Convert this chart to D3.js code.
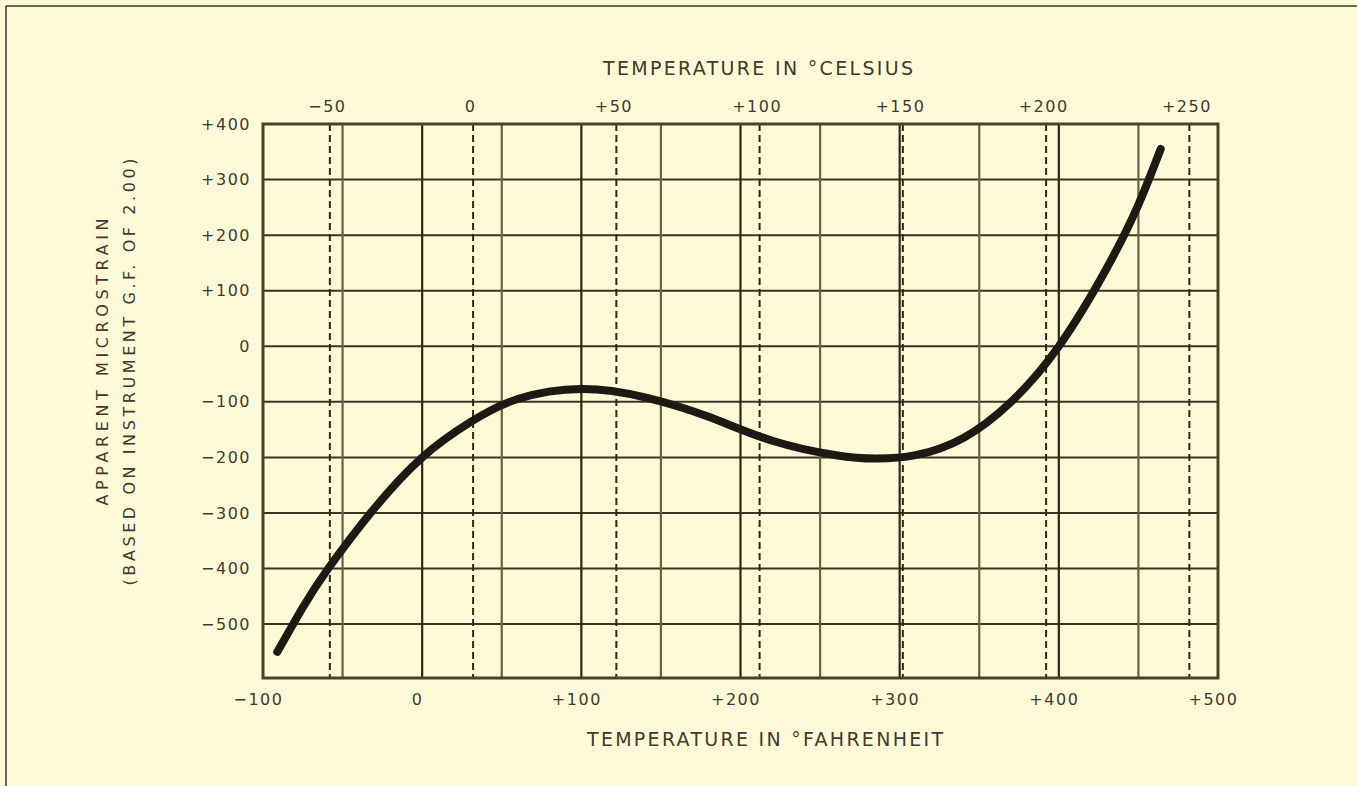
<!DOCTYPE html>
<html>
<head>
<meta charset="utf-8">
<script src="https://cdn.jsdelivr.net/npm/d3@7"></script>
<style>
  html, body { margin: 0; padding: 0; background: #fefad7; }
  svg { display: block; }
  text { font-family: "DejaVu Sans", sans-serif; fill: #3e3b2e; }
</style>
</head>
<body>
<svg id="chart" width="1357" height="786"></svg>
<script>
// ---- data ----
const fahrenheit = [-91, -75, -59, -31, 0, 30, 60, 100, 140, 180, 220, 260, 285, 310, 340, 370, 400, 430, 450, 464];
const strain     = [-550, -470, -400, -295, -200, -137, -95, -77, -92, -127, -170, -196, -202, -196, -165, -100, 0, 140, 255, 355];
const fTicks = [-100, 0, 100, 200, 300, 400, 500];
const fGrid = [-50, 0, 50, 100, 150, 200, 250, 300, 350, 400, 450];
const cTicks = [-50, 0, 50, 100, 150, 200, 250];
const yTicks = [400, 300, 200, 100, 0, -100, -200, -300, -400, -500];
const topTitle = "TEMPERATURE IN °CELSIUS";
const bottomTitle = "TEMPERATURE IN °FAHRENHEIT";
const yTitle1 = "APPARENT MICROSTRAIN";
const yTitle2 = "(BASED ON INSTRUMENT G.F. OF 2.00)";

const svg = d3.select("#chart");
const W = 1357, H = 786;
svg.append("rect").attr("width", W).attr("height", H).attr("fill", "#fefad7");
// outer frame (left / top edge)
svg.append("line").attr("x1", 6).attr("y1", 6).attr("x2", 6).attr("y2", H).attr("stroke", "#333").attr("stroke-width", 1.5);
svg.append("line").attr("x1", 6).attr("y1", 6).attr("x2", W).attr("y2", 6).attr("stroke", "#333").attr("stroke-width", 1.5);

const L = 263, R = 1218, T = 124, B = 678;
const x = d3.scaleLinear().domain([-100, 500]).range([L, R]);
const xc = d3.scaleLinear().domain([(-100 - 32) * 5 / 9, (500 - 32) * 5 / 9]).range([L, R]);
const y = d3.scaleLinear().domain([-597, 400]).range([B, T]);

const fmt = d => d > 0 ? "+" + d : (d < 0 ? "\u2212" + (-d) : "0");

// horizontal grid
svg.append("g").selectAll("line").data(yTicks.filter(d => d < 400)).join("line")
  .attr("x1", L).attr("x2", R).attr("y1", d => y(d)).attr("y2", d => y(d))
  .attr("stroke", "#3a3421").attr("stroke-width", 2);

// vertical solid grid (Fahrenheit)
svg.append("g").selectAll("line").data(fGrid).join("line")
  .attr("x1", d => x(d)).attr("x2", d => x(d)).attr("y1", T).attr("y2", B)
  .attr("stroke", d => d % 100 === 0 ? "#2c2817" : "#6a6040")
  .attr("stroke-width", 2.2);

// dashed grid (Celsius)
svg.append("g").selectAll("line").data(cTicks).join("line")
  .attr("x1", d => xc(d)).attr("x2", d => xc(d)).attr("y1", T).attr("y2", B)
  .attr("stroke", "#2c2817").attr("stroke-width", 2).attr("stroke-dasharray", "7,4");

// frame
svg.append("rect").attr("x", L).attr("y", T).attr("width", R - L).attr("height", B - T)
  .attr("fill", "none").attr("stroke", "#4a4228").attr("stroke-width", 3);

// curve
const pts = fahrenheit.map((f, i) => [f, strain[i]]);
svg.append("path").datum(pts)
  .attr("d", d3.line().x(d => x(d[0])).y(d => y(d[1])).curve(d3.curveNatural))
  .attr("fill", "none").attr("stroke", "#1c1a13").attr("stroke-width", 8)
  .attr("stroke-linecap", "round").attr("stroke-linejoin", "round");

// axes (labels only)
const styleAxis = g => {
  g.select(".domain").remove();
  g.selectAll("line").remove();
  g.selectAll("text").attr("font-family", "DejaVu Sans, sans-serif")
    .attr("font-size", 16).attr("fill", "#3e3b2e").style("letter-spacing", "1.5px");
};

svg.append("g").attr("transform", `translate(-5,${B + 21})`)
  .call(d3.axisBottom(x).tickValues(fTicks).tickSize(0).tickPadding(0).tickFormat(fmt))
  .call(styleAxis)
  .selectAll("text").attr("dy", "0.35em").attr("y", 0);

svg.append("g").attr("transform", `translate(-3,${T - 18})`)
  .call(d3.axisTop(xc).tickValues(cTicks).tickSize(0).tickPadding(0).tickFormat(fmt))
  .call(styleAxis)
  .selectAll("text").attr("dy", "0.35em").attr("y", 0);

svg.append("g").attr("transform", `translate(251,0)`)
  .call(d3.axisLeft(y).tickValues(yTicks).tickSize(0).tickPadding(0).tickFormat(fmt))
  .call(styleAxis);

// titles
const title = (txt, cx, cy, len, rot) => {
  svg.append("text").text(txt)
    .attr("transform", `translate(${cx},${cy})` + (rot ? " rotate(-90)" : ""))
    .attr("text-anchor", "middle").attr("dy", "0.35em")
    .attr("font-size", rot ? 16 : 19)
    .attr("textLength", len).attr("lengthAdjust", "spacing");
};
title(topTitle, 758, 68, 310, false);
title(bottomTitle, 765, 739, 356, false);
title(yTitle1, 102, 362, 287, true);
title(yTitle2, 129, 372, 427, true);
</script>
</body>
</html>
